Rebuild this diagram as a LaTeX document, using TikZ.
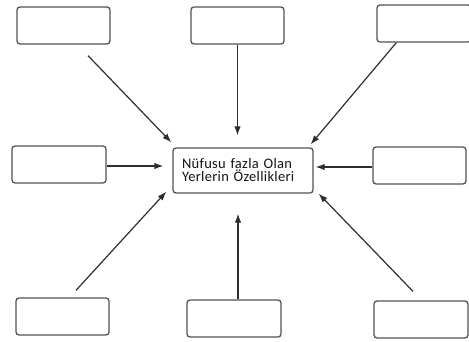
\documentclass[tikz,border=0pt]{standalone}
\usepackage{fontspec}
\setmainfont{Carlito}
\newfontfamily\labelfont[LetterSpace=2]{Carlito}
\usetikzlibrary{positioning,calc,arrows.meta}

\begin{document}
\begin{tikzpicture}[
    x=1pt, y=-1pt,
    box/.style={rectangle, draw=black!68, line width=1.3pt, rounded corners=3pt, minimum width=93pt, minimum height=37pt, inner sep=0pt},
    arrow/.style={draw=black!82, line width=1.2pt, -{Latex[length=9pt,width=6.5pt]}}
]
    \useasboundingbox (0,0) rectangle (469,342);

    % empty answer boxes
    \node[box] (TL) at (63.5,25.5) {};
    \node[box] (TM) at (237.5,25.5) {};
    \node[box, minimum width=94pt] (TR) at (424,23.5) {};
    \node[box, minimum width=94pt] (ML) at (59,164.5) {};
    \node[box] (MR) at (419.5,165.5) {};
    \node[box] (BL) at (62.5,316.5) {};
    \node[box, minimum width=94pt] (BM) at (234,318.5) {};
    \node[box, minimum width=94pt] (BR) at (421,319.5) {};

    % middle box
    \node[box, minimum width=140pt, minimum height=45pt, text width=122pt, inner xsep=9pt, align=left,
          font=\labelfont\fontsize{14.5}{13}\selectfont, text=black!92] (C) at (243,170.5) {Nüfusu fazla Olan\\Yerlerin Özellikleri};

    \draw[arrow] ([xshift=24.5pt,yshift=-11pt]TL.south) -- ([xshift=-1pt,yshift=5pt]C.north west);
    \draw[arrow, shorten >=12pt] (TM.south) -- (TM.south |- C.north);
    \draw[arrow] ([xshift=20pt]TR.south west) -- ([xshift=-3pt,yshift=3pt]C.north east);
    \draw[arrow, shorten >=9pt] ([yshift=-1.5pt]ML.east) -- ([yshift=-1.5pt]ML.east -| C.west);
    \draw[arrow, shorten >=2pt] ([yshift=-1.5pt]MR.west) -- ([yshift=-1.5pt]MR.west -| C.east);
    \draw[arrow] ([xshift=13.5pt,yshift=7pt]BL.north) -- ([xshift=-6pt,yshift=2pt]C.south west);
    \draw[arrow, shorten >=20pt] ([xshift=4pt]BM.north) -- ([xshift=4pt]BM.north |- C.south);
    \draw[arrow] ([xshift=-8pt,yshift=9pt]BR.north) -- ([xshift=5pt]C.south east);

\end{tikzpicture}
\end{document}
